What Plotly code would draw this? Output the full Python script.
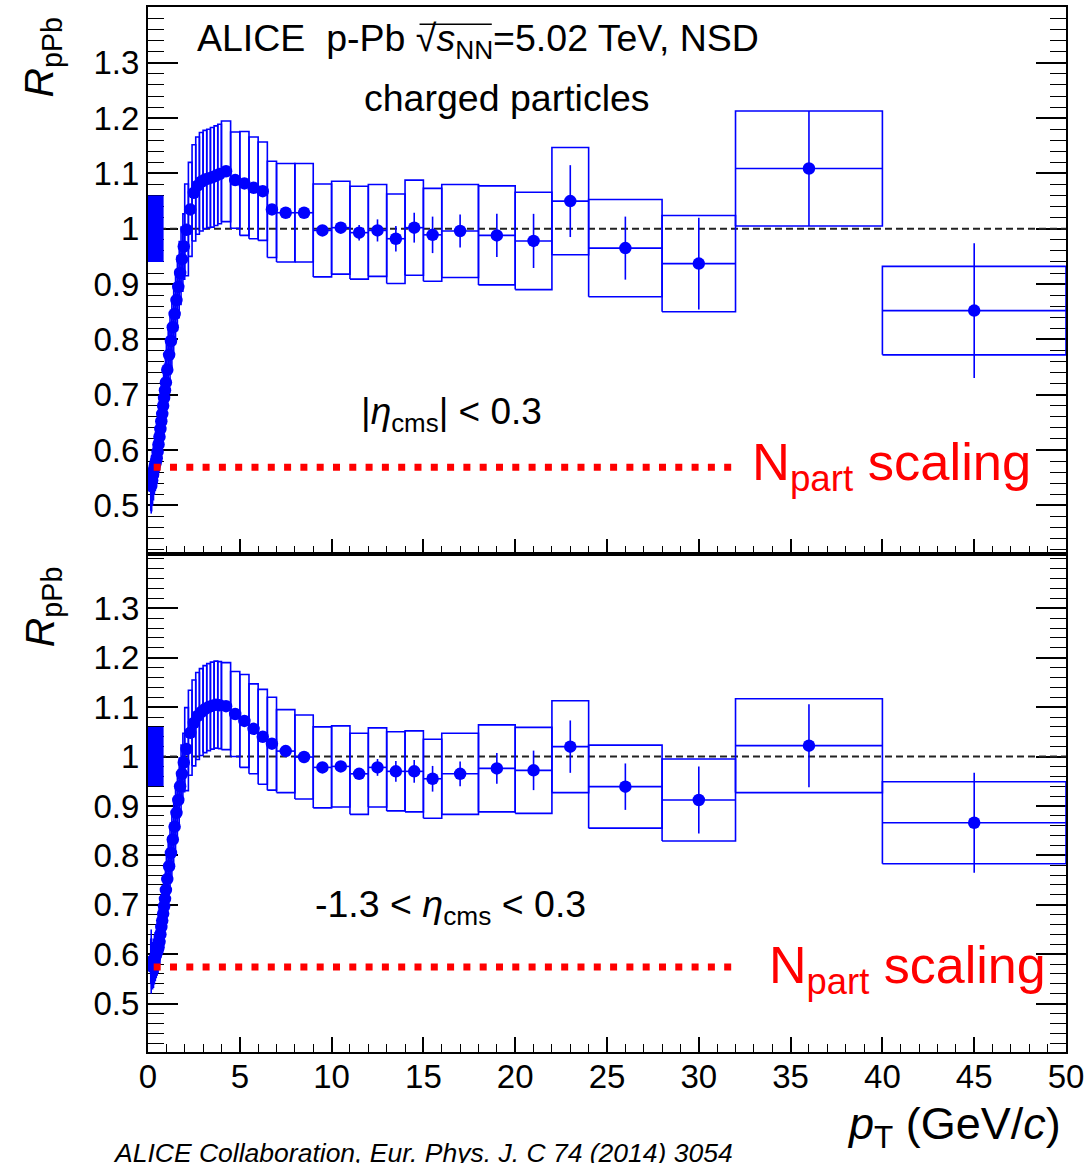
import plotly.graph_objects as go

# pT bin edges (GeV/c)
pt_edges = [0.15, 0.2, 0.25, 0.3, 0.35, 0.4, 0.45, 0.5, 0.55, 0.6, 0.65, 0.7, 0.75, 0.8,
            0.85, 0.9, 0.95, 1.0, 1.1, 1.2, 1.3, 1.4, 1.5, 1.6, 1.7, 1.8, 1.9, 2.0, 2.2,
            2.4, 2.6, 2.8, 3.0, 3.2, 3.4, 3.6, 3.8, 4.0, 4.5, 5.0, 5.5, 6.0, 6.5, 7.0,
            8, 9, 10, 11, 12, 13, 14, 15, 16, 18, 20, 22, 24, 28, 32, 40, 50]

# R_pPb, |eta_cms| < 0.3
rppb_central = [0.535, 0.545, 0.555, 0.565, 0.572, 0.578, 0.585, 0.597, 0.610, 0.624,
                0.638, 0.652, 0.665, 0.680, 0.694, 0.708, 0.722,
                0.745, 0.772, 0.797, 0.822, 0.846, 0.871, 0.895, 0.920, 0.945, 0.968,
                0.998, 1.035, 1.065, 1.078, 1.085, 1.089, 1.091, 1.093, 1.096, 1.099,
                1.104, 1.088, 1.082, 1.074, 1.068, 1.035,
                1.029, 1.029, 0.997, 1.002, 0.993, 0.997, 0.982, 1.002, 0.989,
                0.996, 0.988, 0.978, 1.050,
                0.965, 0.937, 1.109, 0.852]
stat_central = [0.050, 0.015, 0.008, 0.005, 0.004, 0.003, 0.003, 0.003, 0.003, 0.003,
                0.003, 0.003, 0.003, 0.003, 0.003, 0.003, 0.003,
                0.003, 0.003, 0.003, 0.003, 0.003, 0.003, 0.003, 0.003, 0.003, 0.003,
                0.003, 0.003, 0.003, 0.003, 0.003, 0.003, 0.003, 0.003, 0.003, 0.003,
                0.003, 0.004, 0.004, 0.005, 0.005, 0.005,
                0.006, 0.007, 0.008, 0.010, 0.014, 0.020, 0.023, 0.027, 0.033,
                0.030, 0.039, 0.049, 0.065,
                0.057, 0.083, 0.104, 0.122]
syst_central = [0.045, 0.045, 0.045, 0.045, 0.045, 0.045, 0.045, 0.045, 0.045, 0.045,
                0.045, 0.045, 0.046, 0.046, 0.047, 0.047, 0.048,
                0.050, 0.051, 0.052, 0.053, 0.054, 0.055, 0.056, 0.057, 0.058, 0.059,
                0.083, 0.085, 0.087, 0.088, 0.089, 0.089, 0.089, 0.090, 0.090, 0.090,
                0.091, 0.087, 0.094, 0.092, 0.089, 0.087,
                0.089, 0.089, 0.084, 0.084, 0.084, 0.083, 0.081, 0.086, 0.084,
                0.084, 0.0895, 0.088, 0.097,
                0.088, 0.087, 0.104, 0.080]

# R_pPb, -1.3 < eta_cms < 0.3
rppb_wide = [0.585, 0.575, 0.578, 0.585, 0.592, 0.598, 0.603, 0.608, 0.614, 0.625,
             0.640, 0.655, 0.668, 0.682, 0.697, 0.712, 0.730,
             0.752, 0.778, 0.805, 0.832, 0.858, 0.886, 0.912, 0.940, 0.965, 0.988,
             1.015, 1.048, 1.068, 1.082, 1.090, 1.096, 1.100, 1.103, 1.105, 1.104,
             1.102, 1.086, 1.072, 1.056, 1.040, 1.026,
             1.011, 0.999, 0.978, 0.980, 0.965, 0.978, 0.970, 0.970, 0.955,
             0.965, 0.976, 0.972, 1.020,
             0.939, 0.912, 1.022, 0.866]
stat_wide = [0.065, 0.020, 0.010, 0.006, 0.004, 0.003, 0.003, 0.003, 0.003, 0.003,
             0.003, 0.003, 0.003, 0.003, 0.003, 0.003, 0.003,
             0.003, 0.003, 0.003, 0.003, 0.003, 0.003, 0.003, 0.003, 0.003, 0.003,
             0.003, 0.003, 0.003, 0.003, 0.003, 0.003, 0.003, 0.003, 0.003, 0.003,
             0.003, 0.003, 0.004, 0.004, 0.004, 0.005,
             0.005, 0.005, 0.006, 0.008, 0.010, 0.017, 0.021, 0.023, 0.026,
             0.025, 0.031, 0.040, 0.053,
             0.047, 0.068, 0.084, 0.101]
syst_wide = [0.045, 0.045, 0.045, 0.045, 0.045, 0.045, 0.045, 0.045, 0.045, 0.045,
             0.045, 0.045, 0.046, 0.046, 0.047, 0.047, 0.048,
             0.050, 0.051, 0.052, 0.053, 0.054, 0.055, 0.056, 0.057, 0.058, 0.059,
             0.084, 0.086, 0.087, 0.088, 0.088, 0.088, 0.088, 0.088, 0.088, 0.088,
             0.088, 0.086, 0.094, 0.091, 0.096, 0.094,
             0.084, 0.085, 0.082, 0.082, 0.082, 0.080, 0.080, 0.082, 0.080,
             0.082, 0.088, 0.087, 0.093,
             0.084, 0.083, 0.095, 0.083]

# normalisation uncertainty and N_part scaling expectation
norm_unc = 0.06
norm_box_pt = [0.0, 0.85]
npart_central = 0.569
npart_wide = 0.574
npart_pt = [0.31, 32.0]

BLUE = "#0000ff"
RED = "#ff0000"
FONT = "Liberation Sans, Arial, Helvetica, sans-serif"

centers = [(a + b) / 2 for a, b in zip(pt_edges[:-1], pt_edges[1:])]
half_w = [(b - a) / 2 for a, b in zip(pt_edges[:-1], pt_edges[1:])]


def box_path(vals, syst):
    xs, ys = [], []
    for lo, hi, v, s in zip(pt_edges[:-1], pt_edges[1:], vals, syst):
        xs += [lo, hi, hi, lo, lo, None]
        ys += [v - s, v - s, v + s, v + s, v - s, None]
    return xs, ys


fig = go.Figure()


def add_panel(xa, ya, vals, stat, syst, npart):
    # unity reference
    fig.add_trace(go.Scatter(x=[0, 50], y=[1, 1], mode="lines", xaxis=xa, yaxis=ya,
                             line=dict(color="#222222", width=2, dash="7px,4px"),
                             hoverinfo="skip", showlegend=False))
    # systematic boxes
    bx, by = box_path(vals, syst)
    fig.add_trace(go.Scatter(x=bx, y=by, mode="lines", xaxis=xa, yaxis=ya,
                             line=dict(color=BLUE, width=1.6), hoverinfo="skip",
                             showlegend=False))
    # normalisation uncertainty
    fig.add_trace(go.Scatter(
        x=[norm_box_pt[0], norm_box_pt[1], norm_box_pt[1], norm_box_pt[0], norm_box_pt[0]],
        y=[1 - norm_unc, 1 - norm_unc, 1 + norm_unc, 1 + norm_unc, 1 - norm_unc],
        mode="lines", fill="toself", fillcolor=BLUE, line=dict(color=BLUE, width=0),
        xaxis=xa, yaxis=ya, hoverinfo="skip", showlegend=False))
    # data points with statistical errors
    fig.add_trace(go.Scatter(
        x=centers, y=vals, mode="markers", xaxis=xa, yaxis=ya,
        marker=dict(color=BLUE, size=12.5, symbol="circle"),
        error_y=dict(type="data", array=stat, color=BLUE, thickness=1.6, width=0),
        error_x=dict(type="data", array=half_w, color=BLUE, thickness=1.6, width=0),
        showlegend=False))
    # N_part scaling level
    fig.add_trace(go.Scatter(x=npart_pt, y=[npart, npart], mode="lines", xaxis=xa, yaxis=ya,
                             line=dict(color=RED, width=7, dash="7px,9.3px"),
                             hoverinfo="skip", showlegend=False))


add_panel("x2", "y2", rppb_central, stat_central, syst_central, npart_central)
add_panel("x", "y", rppb_wide, stat_wide, syst_wide, npart_wide)

split = 0.4766
tickfont = dict(family=FONT, size=33, color="black")
xcommon = dict(range=[0, 50], tick0=0, dtick=5, ticks="inside", ticklen=15, tickwidth=1.5,
               tickcolor="black", showline=True, linewidth=2, linecolor="black",
               mirror=True, showgrid=False, zeroline=False, tickfont=tickfont,
               layer="below traces",
               minor=dict(ticks="inside", dtick=1, tick0=0, ticklen=8, tickwidth=1.2,
                          tickcolor="black", showgrid=False))
ycommon = dict(tickvals=[0.5, 0.6, 0.7, 0.8, 0.9, 1.0, 1.1, 1.2, 1.3],
               ticktext=["0.5", "0.6", "0.7", "0.8", "0.9", "1", "1.1", "1.2", "1.3"],
               ticks="inside", ticklen=30, tickwidth=1.5, tickcolor="black",
               showline=True, linewidth=2, linecolor="black", mirror="ticks",
               showgrid=False, zeroline=False, tickfont=tickfont, ticklabelstandoff=0,
               layer="below traces",
               minor=dict(ticks="inside", tickmode="linear", tick0=0.4, dtick=0.02,
                          ticklen=16, tickwidth=1.2, tickcolor="black", showgrid=False))

fig.update_layout(
    width=1089, height=1163,
    margin=dict(l=148, r=21, t=5, b=111),
    paper_bgcolor="white", plot_bgcolor="white",
    showlegend=False,
    xaxis=dict(domain=[0, 1], anchor="y", ticklabelstandoff=-6, **xcommon),
    xaxis2=dict(domain=[0, 1], anchor="y2", matches="x", showticklabels=False, **xcommon),
    yaxis=dict(domain=[0, split], anchor="x", range=[0.402, 1.41], **ycommon),
    yaxis2=dict(domain=[split, 1], anchor="x2", range=[0.412, 1.401], **ycommon),
)

txt = dict(family=FONT, color="black")
ann = [
    dict(xref="x2", yref="y2", x=2.55, y=1.339, xanchor="left", yanchor="middle",
         text="ALICE  p-Pb √<i>s</i><sub>NN</sub>=5.02 TeV, NSD", font=dict(size=37.5, **txt)),
    dict(xref="x2", yref="y2", x=19.57, y=1.236, xanchor="center", yanchor="middle",
         text="charged particles", font=dict(size=37.5, **txt)),
    dict(xref="x2", yref="y2", x=11.5, y=0.665, xanchor="left", yanchor="middle",
         text="|<i>η</i><sub>cms</sub>| < 0.3", font=dict(size=37, **txt)),
    dict(xref="x", yref="y", x=8.97, y=0.695, xanchor="left", yanchor="middle",
         text="-1.3 < <i>η</i><sub>cms</sub> < 0.3", font=dict(size=37.5, **txt)),
    dict(xref="x2", yref="y2", x=32.8, y=0.572, xanchor="left", yanchor="middle",
         text="N<sub>part</sub> scaling", font=dict(size=52.5, family=FONT, color=RED)),
    dict(xref="x", yref="y", x=33.7, y=0.571, xanchor="left", yanchor="middle",
         text="N<sub>part</sub> scaling", font=dict(size=52, family=FONT, color=RED)),
    dict(xref="paper", yref="paper", x=-0.115, y=0.952, xanchor="center", yanchor="middle",
         textangle=-90, text="<i>R</i><sub>pPb</sub>", font=dict(size=41, **txt)),
    dict(xref="paper", yref="paper", x=-0.115, y=0.426, xanchor="center", yanchor="middle",
         textangle=-90, text="<i>R</i><sub>pPb</sub>", font=dict(size=41, **txt)),
    dict(xref="paper", yref="paper", x=0.997, y=-0.071, xanchor="right", yanchor="middle",
         text="<i>p</i><sub>T</sub> (GeV/<i>c</i>)", font=dict(size=45, **txt)),
    dict(xref="paper", yref="paper", x=0.3, y=-0.097, xanchor="center", yanchor="middle",
         text="<i>ALICE Collaboration, Eur. Phys. J. C 74 (2014) 3054</i>",
         font=dict(size=26.5, **txt)),
]
for a in ann:
    a["showarrow"] = False
fig.update_layout(annotations=ann)

# vinculum of the square root over s_NN
fig.add_shape(type="line", xref="paper", yref="paper",
              x0=0.2958, x1=0.3745, y0=0.9835, y1=0.9835,
              line=dict(color="black", width=1.6))

fig.write_html("out.html")
